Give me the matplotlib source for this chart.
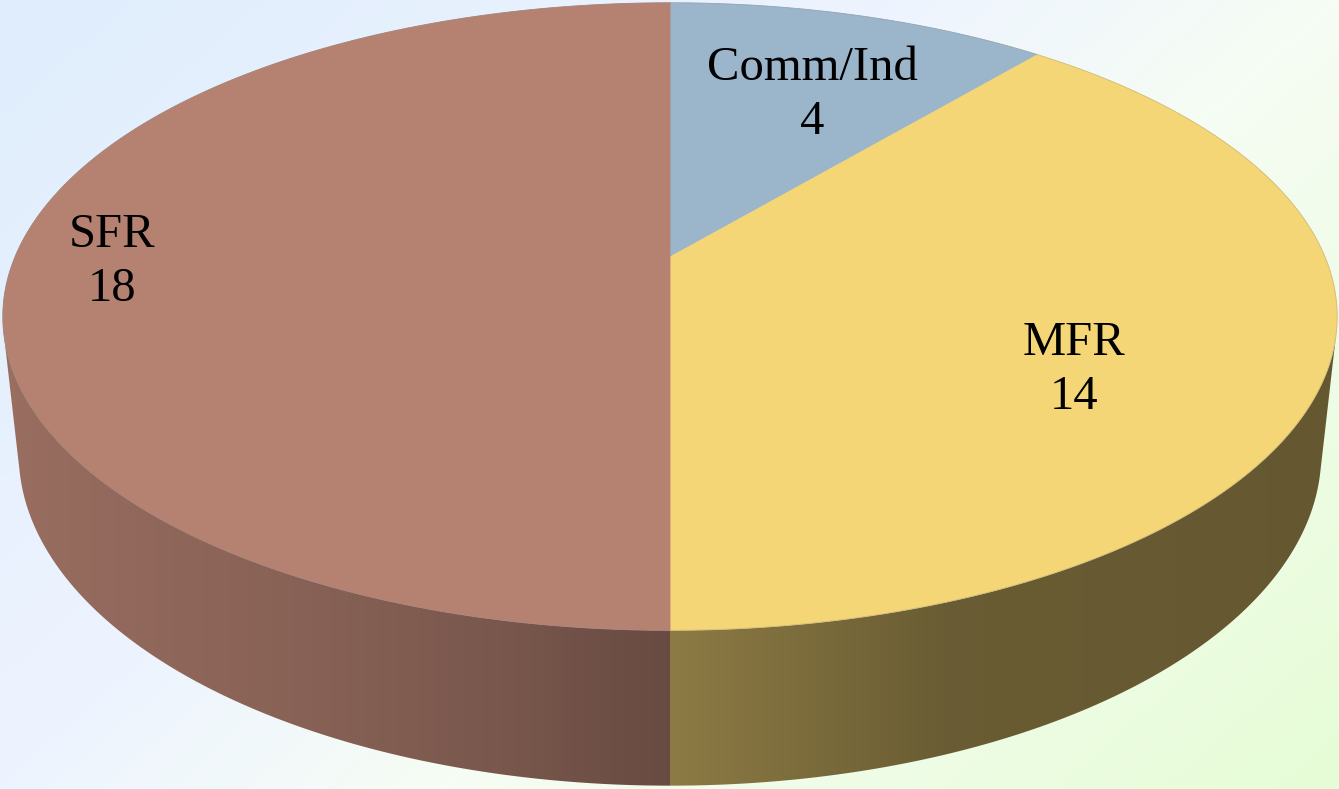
import numpy as np
import matplotlib.pyplot as plt
from matplotlib.patches import Polygon
from matplotlib.colors import LinearSegmentedColormap, to_rgb

# data
categories = ["Comm/Ind", "MFR", "SFR"]
counts = [4, 14, 18]
slice_colors = ["#9bb5cb", "#f5d677", "#b58272"]

# canvas (pixel units)
W, H = 1339, 789

# 3d pie camera: disk of radius 1, seen from above with perspective
CX, CY = 670.0, 257.0          # screen position of the pie centre
TILT = np.radians(27.5)
DIST = 4.673
FOCAL = 3061.0
THICK = 0.238

# side lighting: brightness factor against the x part of the side normal
SHADE_NX = [-1.0, -0.5, -0.21, 0.0, 0.35, 1.0]
SHADE_K = [0.86, 0.76, 0.67, 0.575, 0.43, 0.41]

# label anchors (centre x, baseline of first line), font setup
LABEL_POS = [(812, 80), (1074, 355), (112, 247)]
LINE_GAP = 54
FONT = "Liberation Serif"
FONT_SIZE = 35


def project(theta, r=1.0, y=0.0):
    x3 = r * np.sin(theta)
    z3 = r * np.cos(theta)
    yc = y * np.cos(TILT) + z3 * np.sin(TILT)
    zc = DIST + z3 * np.cos(TILT) - y * np.sin(TILT)
    return CX + FOCAL * x3 / zc, CY - FOCAL * yc / zc


fig = plt.figure(figsize=(W / 100, H / 100), dpi=100)
ax = fig.add_axes([0, 0, 1, 1])

# background gradient, blue top-left to green bottom-right
yy, xx = np.mgrid[0:1:200j, 0:1:300j]
bg_cmap = LinearSegmentedColormap.from_list(
    "bg", [(0.0, "#dfedfc"), (0.4, "#eef4ff"), (0.6, "#f6fdf4"), (1.0, "#e6fcd6")])
ax.imshow(0.6 * xx + 0.4 * yy, cmap=bg_cmap, extent=[0, W, H, 0],
          aspect="auto", interpolation="bilinear", zorder=0)

total = float(sum(counts))
bounds = 2 * np.pi * np.cumsum([0] + counts) / total

# visible part of the outer wall
theta_a = np.arccos(-1.0 / (DIST * np.cos(TILT)))
theta_b = 2 * np.pi - theta_a

# column -> side normal mapping for the wall gradient
arc = np.linspace(theta_b, theta_a, 400)
arc_u, _ = project(arc)
cols = np.arange(W) + 0.5
nx_cols = np.interp(cols, arc_u, np.sin(arc))
shade_cols = np.interp(nx_cols, SHADE_NX, SHADE_K)

for i, col in enumerate(slice_colors):
    lo = max(bounds[i], theta_a)
    hi = min(bounds[i + 1], theta_b)
    if hi <= lo:
        continue
    t = np.linspace(lo, hi, 200)
    ut, vt = project(t)
    ub, vb = project(t[::-1], y=-THICK)
    side = Polygon(np.column_stack([np.r_[ut, ub], np.r_[vt, vb]]),
                   closed=True, facecolor="none", edgecolor="none")
    ax.add_patch(side)
    rgb = np.clip(np.outer(shade_cols, to_rgb(col)), 0, 1)[None, :, :]
    img = ax.imshow(rgb, extent=[0, W, H, 0], aspect="auto",
                    interpolation="nearest", zorder=2)
    img.set_clip_path(side)

# top faces
for i, col in enumerate(slice_colors):
    t = np.linspace(bounds[i], bounds[i + 1], 300)
    u, v = project(t)
    pts = np.column_stack([np.r_[CX, u], np.r_[CY, v]])
    ax.add_patch(Polygon(pts, closed=True, facecolor=col, edgecolor=col,
                         linewidth=0.6, zorder=3))

# faint rim edge on the top face
t = np.linspace(0, 2 * np.pi, 720)
u, v = project(t)
ax.plot(u, v, color="#8a8a8a", linewidth=0.6, alpha=0.35, zorder=4)

# labels
for name, value, (lx, ly) in zip(categories, counts, LABEL_POS):
    ax.text(lx, ly, name, ha="center", va="baseline", fontsize=FONT_SIZE,
            family=FONT, color="black", zorder=5)
    ax.text(lx, ly + LINE_GAP, str(value), ha="center", va="baseline",
            fontsize=FONT_SIZE, family=FONT, color="black", zorder=5)

ax.set_xlim(0, W)
ax.set_ylim(H, 0)
ax.axis("off")

fig.savefig("out.png", dpi=100)
